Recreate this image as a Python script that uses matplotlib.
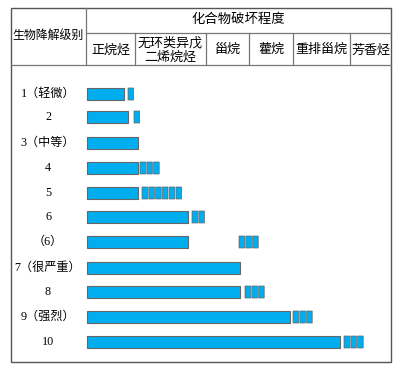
import matplotlib
matplotlib.use("Agg")
import matplotlib.pyplot as plt
from matplotlib.patches import Rectangle

plt.rcParams['font.family'] = ['Liberation Serif', 'Noto Sans CJK SC', 'DejaVu Sans']

# 表头
titulo = "化合物破坏程度"
rotulo_linhas = "生物降解级别"
colunas = ["正烷烃", "无环类异戊\n二烯烷烃", "甾烷", "藿烷", "重排甾烷", "芳香烃"]
col_limites = [86, 135, 206, 249, 293, 350, 391]

# 数据（横轴单位 = 图中刻度）
niveis = ["1（轻微）", "2", "3（中等）", "4", "5", "6", "（6）",
          "7（很严重）", "8", "9（强烈）", "10"]
fim_barra = [124, 128, 138, 138, 138, 188, 188, 240, 240, 290, 340]
inicio_blocos = [128, 134, 0, 140, 142, 192, 239, 0, 245, 293, 344]
n_blocos = [1, 1, 0, 3, 6, 2, 3, 0, 3, 3, 3]
y_linhas = [94, 117, 143, 168, 193, 217, 242, 268, 292, 317, 342]

azul = "#00AEEF"
borda = "#666666"

fig = plt.figure(figsize=(4.04, 3.68), dpi=100)
ax = fig.add_axes([0, 0, 1, 1])
ax.set_xlim(0, 404)
ax.set_ylim(368, 0)
ax.axis("off")

# moldura
lc = "#777777"
ax.add_patch(Rectangle((11, 8), 380, 354, fill=False, ec="#555555", lw=1))
ax.plot([86, 86], [8, 65], color=lc, lw=0.9)
ax.plot([86, 391], [33, 33], color=lc, lw=0.9)
ax.plot([11, 391], [65, 65], color=lc, lw=0.9)
for x in col_limites[1:-1]:
    ax.plot([x, x], [33, 65], color=lc, lw=0.9)

ax.text(238, 20, titulo, ha="center", va="center", fontsize=9.6)
ax.text(48, 36, rotulo_linhas, ha="center", va="center", fontsize=8.6)
for i, c in enumerate(colunas):
    xc = (col_limites[i] + col_limites[i + 1]) / 2
    ax.text(xc, 50, c, ha="center", va="center", fontsize=9.4, linespacing=1.2)

h = 12
w_bloco = 5.6
passo = 6.8
for nome, fim, ini, n, y in zip(niveis, fim_barra, inicio_blocos, n_blocos, y_linhas):
    ax.text(48, y, nome, ha="center", va="center", fontsize=8.7)
    ax.add_patch(Rectangle((87, y - h / 2), fim - 87, h, fc=azul, ec=borda, lw=0.8))
    for k in range(n):
        ax.add_patch(Rectangle((ini + k * passo, y - h / 2), w_bloco, h,
                               fc=azul, ec=borda, lw=0.5, snap=False))

plt.savefig("out.png", dpi=100)
